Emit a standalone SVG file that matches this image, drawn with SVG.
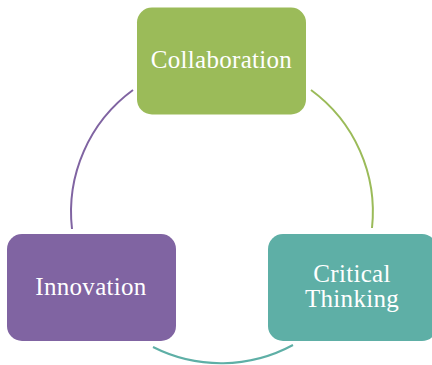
<svg xmlns="http://www.w3.org/2000/svg" width="432" height="365" viewBox="0 0 432 365">
<style>
.lbl{font-family:"Liberation Serif",serif;font-size:25px;letter-spacing:0.3px;fill:#fff;text-anchor:middle}
.arc{fill:none;stroke-width:2}
</style>
<rect width="432" height="365" fill="#fff"/>
<g id="connectors">
<path class="arc" stroke="#9BBB59" d="M311,90 A151,151 0 0 1 372,228"/>
<path class="arc" stroke="#5EAFA6" d="M293,345 A151,151 0 0 1 153,347"/>
<path class="arc" stroke="#8064A2" d="M72,229 A151,151 0 0 1 133,90"/>
</g>
<g id="collaboration">
<rect x="137" y="7.5" width="169" height="107" rx="15" fill="#9BBB59"/>
<text class="lbl" x="221.5" y="68">Collaboration</text>
</g>
<g id="critical-thinking">
<rect x="268" y="234" width="169" height="107" rx="15" fill="#5EAFA6"/>
<text class="lbl" x="352" y="282">Critical</text>
<text class="lbl" x="352" y="307">Thinking</text>
</g>
<g id="innovation">
<rect x="7" y="234" width="169" height="107" rx="15" fill="#8064A2"/>
<text class="lbl" x="91" y="295">Innovation</text>
</g>
</svg>
